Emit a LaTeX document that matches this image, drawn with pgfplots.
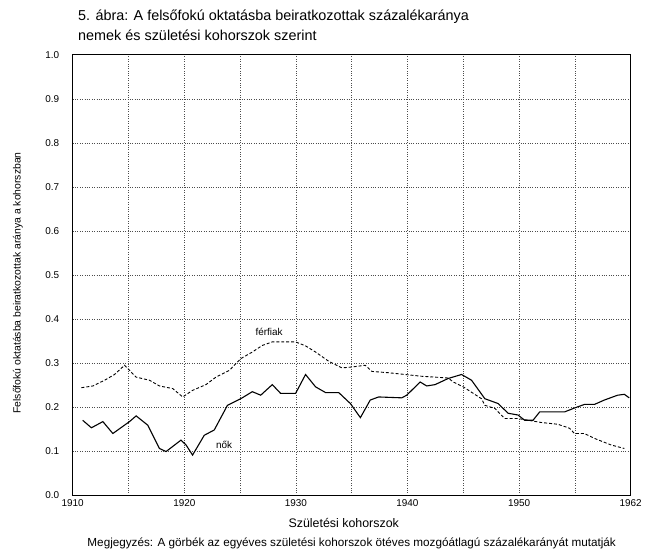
\documentclass[border=0pt]{standalone}
\usepackage{fontspec}
\setmainfont{Liberation Sans}
\usepackage{pgfplots}
\pgfplotsset{compat=1.18}
\begin{document}
\begin{tikzpicture}
\begin{axis}[
  scale only axis,
  width=560bp, height=442bp,
  xmin=1910, xmax=1962,
  ymin=0, ymax=1,
  xtick={1910,1920.4,1930.8,1941.2,1951.6,1962},
  xticklabels={1910,1920,1930,1940,1950,1962},
  minor xtick={1915.2,1925.6,1936,1946.4,1956.8},
  ytick={0,0.1,0.2,0.3,0.4,0.5,0.6,0.7,0.8,0.9,1.0},
  yticklabel style={/pgf/number format/fixed,/pgf/number format/fixed zerofill,/pgf/number format/precision=1},
  /pgf/number format/assume math mode=true,
  ticklabel style={font=\fontsize{10}{12}\selectfont},
  xticklabel style={yshift=-1bp},
  yticklabel style={xshift=-10bp},
  major tick length=0pt, minor tick length=0pt,
  grid=both,
  major grid style={black!70, dotted, line width=0.6pt},
  minor grid style={black!70, dotted, line width=0.6pt},
  axis line style={black, line width=0.9pt},
  clip=false,
]
% noek (solid)
\addplot[black, line width=1.1pt] coordinates {
(1910.93,0.170) (1911.74,0.153) (1912.81,0.167) (1913.74,0.140) (1915.29,0.167)
(1915.91,0.180) (1916.99,0.159) (1918.08,0.106) (1918.70,0.099) (1920.09,0.125)
(1920.56,0.114) (1921.17,0.091) (1922.26,0.136) (1923.19,0.148) (1924.42,0.204)
(1925.66,0.219) (1926.74,0.235) (1927.52,0.227) (1928.60,0.251) (1929.38,0.231)
(1930.77,0.231) (1931.70,0.274) (1932.63,0.246) (1933.56,0.233) (1934.79,0.233)
(1935.88,0.208) (1936.81,0.176) (1937.73,0.216) (1938.51,0.223) (1940.67,0.221)
(1941.13,0.227) (1942.38,0.257) (1942.99,0.248) (1943.77,0.251) (1945.00,0.265)
(1946.24,0.274) (1947.17,0.261) (1948.41,0.219) (1949.65,0.208) (1950.58,0.186)
(1951.50,0.182) (1952.13,0.170) (1952.90,0.170) (1953.52,0.189) (1955.84,0.189)
(1956.77,0.198) (1957.69,0.206) (1958.62,0.206) (1959.55,0.216) (1960.79,0.227)
(1961.41,0.229) (1961.87,0.221)
};
% ferfiak (dashed)
\addplot[black, line width=0.9pt, dash pattern=on 3pt off 2pt] coordinates {
(1910.81,0.244) (1911.89,0.248) (1912.97,0.261) (1913.90,0.274) (1914.83,0.295)
(1915.91,0.268) (1917.15,0.261) (1918.08,0.248) (1919.32,0.242) (1920.25,0.223)
(1921.17,0.238) (1922.42,0.251) (1923.35,0.268) (1924.58,0.283) (1925.66,0.310)
(1926.74,0.325) (1927.67,0.340) (1928.60,0.348) (1930.77,0.348) (1931.70,0.339)
(1932.63,0.325) (1933.86,0.304) (1935.10,0.289) (1936.03,0.291) (1937.26,0.295)
(1937.88,0.281) (1939.43,0.278) (1940.98,0.274) (1942.50,0.270) (1943.80,0.268)
(1945.00,0.266) (1945.46,0.257) (1946.39,0.246) (1948.10,0.219) (1948.41,0.204)
(1949.34,0.197) (1950.27,0.174) (1951.50,0.174) (1953.67,0.165) (1955.22,0.161)
(1956.30,0.152) (1956.77,0.140) (1957.69,0.140) (1958.62,0.129) (1960.17,0.114)
(1961.41,0.106)
};
\node[font=\fontsize{10}{12}\selectfont] at (axis cs:1928.3,0.371) {férfiak};
\node[font=\fontsize{10}{12}\selectfont] at (axis cs:1924.1,0.115) {nők};
\end{axis}
\node[anchor=west, font=\fontsize{14.5}{17}\selectfont] at (2bp,480bp) {5. ábra: A felsőfokú oktatásba beiratkozottak százalékaránya};
\node[anchor=west, font=\fontsize{14.5}{17}\selectfont] at (2bp,462bp) {nemek és születési kohorszok szerint};
\node[rotate=90, font=\fontsize{10.5}{12}\selectfont] at (-55bp,213bp) {Felsőfokú oktatásba beiratkozottak aránya a kohorszban};
\node[font=\fontsize{12.5}{14}\selectfont] at (272bp,-28bp) {Születési kohorszok};
\node[font=\fontsize{11.8}{14}\selectfont] at (280bp,-48bp) {Megjegyzés: A görbék az egyéves születési kohorszok ötéves mozgóátlagú százalékarányát mutatják};
\path[use as bounding box] (-73bp,-59bp) rectangle (572bp,497bp);
\end{tikzpicture}
\end{document}
